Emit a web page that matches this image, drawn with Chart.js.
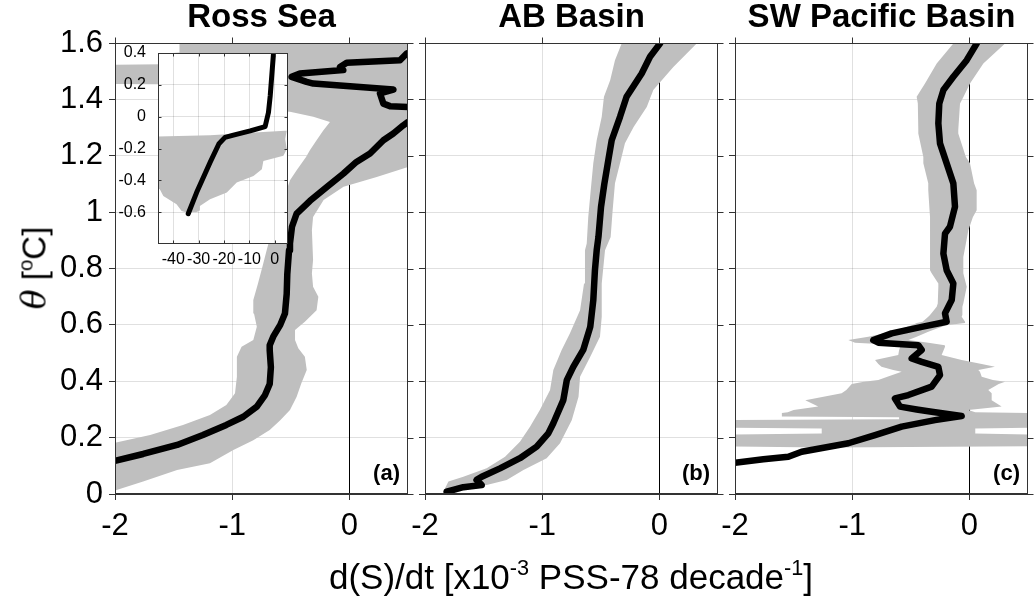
<!DOCTYPE html>
<html>
<head>
<meta charset="utf-8">
<script src="https://cdn.jsdelivr.net/npm/chart.js"></script>
<style>
  html, body { margin: 0; padding: 0; background: #fff; }
  #wrap { position: relative; width: 1036px; height: 600px; overflow: hidden;
          font-family: "Liberation Sans", Arial, Helvetica, sans-serif; color: #000; }
  #wrap canvas { position: absolute; left: 0; top: 0; }
  .ytitle { position: absolute; left: 34px; top: 268px; transform: translate(-50%, -50%) rotate(-90deg);
            font-size: 33px; white-space: nowrap; line-height: 1; }
  .xtitle { position: absolute; left: 571px; top: 576px; transform: translate(-50%, -50%);
            font-size: 35px; white-space: nowrap; line-height: 1; }
  .ytitle i { font-family: "DejaVu Serif", "Liberation Serif", serif; }
  sup { font-size: 0.62em; vertical-align: 0.62em; line-height: 0; }
</style>
</head>
<body>
<div id="wrap">
  <canvas id="panel0" width="1036" height="600"></canvas>
  <canvas id="panel1" width="1036" height="600"></canvas>
  <canvas id="panel2" width="1036" height="600"></canvas>
  <canvas id="inset" width="1036" height="600"></canvas>
  <div class="ytitle"><i>θ</i> [<sup>o</sup>C]</div>
  <div class="xtitle">d(S)/dt [x10<sup>-3</sup> PSS-78 decade<sup>-1</sup>]</div>
</div>
<script>
// ---------------- data ----------------
const panelTitles  = ['Ross Sea', 'AB Basin', 'SW Pacific Basin'];
const panelLetters = ['(a)', '(b)', '(c)'];

const thetaTicks      = [0, 0.2, 0.4, 0.6, 0.8, 1, 1.2, 1.4, 1.6];
const thetaTickLabels = ['0', '0.2', '0.4', '0.6', '0.8', '1', '1.2', '1.4', '1.6'];
const rateTicks       = [-2, -1, 0];
const rateTickLabels  = ['-2', '-1', '0'];

// Ross Sea: mean trend profile
const rossLineT = [0.09,0.118,0.142,0.174,0.209,0.245,0.274,0.31,0.351,0.39,0.45,0.51,0.528,0.558,0.60,0.64,0.71,0.78,0.865,0.889,0.948,0.995,1.04,1.09,1.137,1.178,1.208,1.255,1.279,1.308,1.32,1.345,1.373,1.376,1.385,1.421,1.435,1.456,1.462,1.48,1.492,1.504,1.515,1.53,1.539,1.563,1.58];
const rossLineX = [-2.3,-2.0,-1.76,-1.47,-1.25,-1.05,-0.905,-0.79,-0.72,-0.68,-0.67,-0.68,-0.68,-0.65,-0.59,-0.55,-0.535,-0.53,-0.515,-0.507,-0.49,-0.45,-0.336,-0.19,-0.05,0.06,0.176,0.29,0.375,0.46,0.5,0.65,0.5,0.346,0.29,0.261,0.375,-0.308,-0.365,-0.493,-0.422,-0.052,-0.08,-0.023,0.432,0.489,0.6];
// Ross Sea: uncertainty range
const rossLoT = [0.01,0.1,0.182,0.209,0.245,0.28,0.316,0.357,0.416,0.487,0.522,0.546,0.593,0.64,0.688,0.747,0.818,0.865,0.89,1.0,1.113,1.149,1.196,1.22,1.255,1.29,1.32,1.338,1.356,1.37,1.452,1.456,1.521,1.525,1.562,1.566,1.62];
const rossLoX = [-3.0,-2.9,-2.0,-1.70,-1.42,-1.19,-1.05,-0.976,-0.96,-0.96,-0.92,-0.82,-0.79,-0.814,-0.82,-0.78,-0.735,-0.706,-0.69,-0.6,-0.507,-0.45,-0.37,-0.336,-0.28,-0.223,-0.166,-0.308,-0.507,-1.0,-1.0,-2.5,-2.5,-1.6,-1.6,-1.45,-1.45];
const rossHiT = [0.01,0.044,0.085,0.109,0.156,0.191,0.227,0.262,0.298,0.345,0.393,0.44,0.487,0.517,0.546,0.582,0.611,0.652,0.70,0.735,0.783,0.83,0.936,0.983,1.043,1.09,1.125,1.16,1.17,1.62];
const rossHiX = [-2.02,-1.76,-1.47,-1.19,-0.99,-0.82,-0.68,-0.59,-0.507,-0.45,-0.41,-0.364,-0.38,-0.436,-0.464,-0.464,-0.38,-0.28,-0.265,-0.31,-0.32,-0.31,-0.32,-0.31,-0.22,-0.05,0.233,0.5,0.9,0.9];

// AB Basin
const abLineT = [0.008,0.024,0.032,0.05,0.061,0.091,0.127,0.168,0.215,0.251,0.333,0.404,0.451,0.511,0.593,0.688,0.794,0.865,0.912,1.019,1.10,1.184,1.255,1.338,1.409,1.492,1.551,1.598];
const abLineX = [-1.815,-1.673,-1.516,-1.56,-1.516,-1.36,-1.19,-1.047,-0.948,-0.905,-0.82,-0.79,-0.735,-0.65,-0.59,-0.564,-0.55,-0.535,-0.52,-0.498,-0.47,-0.436,-0.407,-0.336,-0.28,-0.151,-0.08,0.005];
const abLoT = [0.0,0.008,0.044,0.061,0.091,0.132,0.185,0.239,0.298,0.369,0.44,0.511,0.57,0.652,0.747,0.865,0.889,0.983,1.078,1.173,1.255,1.338,1.409,1.468,1.539,1.598,1.62];
const abLoX = [-1.85,-1.844,-1.8,-1.673,-1.474,-1.317,-1.19,-1.104,-1.02,-0.933,-0.905,-0.834,-0.763,-0.677,-0.643,-0.635,-0.62,-0.607,-0.586,-0.564,-0.535,-0.492,-0.473,-0.42,-0.379,-0.322,-0.3];
const abHiT = [0.0,0.002,0.02,0.032,0.05,0.085,0.127,0.18,0.262,0.345,0.416,0.487,0.558,0.629,0.747,0.865,0.912,1.007,1.102,1.173,1.244,1.302,1.373,1.433,1.515,1.598,1.62];
const abHiX = [-1.8,-1.787,-1.673,-1.474,-1.303,-1.16,-0.962,-0.848,-0.748,-0.69,-0.677,-0.59,-0.507,-0.492,-0.492,-0.464,-0.416,-0.399,-0.379,-0.336,-0.294,-0.22,-0.108,-0.052,0.119,0.318,0.36];

// SW Pacific Basin
const pacLineT = [0.1,0.111,0.123,0.132,0.15,0.18,0.209,0.239,0.262,0.277,0.292,0.30,0.31,0.339,0.351,0.381,0.422,0.451,0.469,0.481,0.511,0.528,0.537,0.546,0.57,0.593,0.611,0.641,0.688,0.747,0.794,0.853,0.924,0.948,1.019,1.102,1.173,1.244,1.315,1.385,1.433,1.48,1.539,1.598,1.62];
const pacLineX = [-2.25,-2.0,-1.758,-1.545,-1.431,-1.033,-0.805,-0.578,-0.294,-0.066,-0.322,-0.45,-0.592,-0.635,-0.521,-0.322,-0.251,-0.265,-0.407,-0.493,-0.407,-0.436,-0.777,-0.82,-0.663,-0.407,-0.194,-0.208,-0.151,-0.137,-0.194,-0.222,-0.208,-0.166,-0.123,-0.137,-0.194,-0.251,-0.265,-0.257,-0.222,-0.137,-0.023,0.062,0.09];
const pacBandT = [0.165,0.17,0.21,0.215,0.232,0.236,0.262,0.265,0.272,0.275,0.287,0.29,0.298,0.31,0.333,0.357,0.369,0.39,0.398,0.404,0.416,0.434,0.44,0.451,0.461,0.475,0.493,0.51,0.522,0.528,0.537,0.546,0.558,0.576,0.599,0.607,0.611,0.629,0.635,0.664,0.676,0.735,0.747,0.783,0.794,0.841,0.889,0.936,0.983,1.007,1.078,1.102,1.173,1.196,1.279,1.291,1.385,1.409,1.456,1.527,1.598,1.62];
const pacLoX = [-1.25,-2.3,-2.3,-1.26,-1.26,-2.3,-2.3,-0.6,-0.6,-1.6,-1.6,-1.55,-1.5,-1.29,-1.40,-1.09,-1.05,-1.004,-0.9,-0.777,-0.7,-0.578,-0.65,-0.75,-0.777,-0.805,-0.607,-0.6,-0.59,-0.578,-0.976,-1.033,-0.862,-0.663,-0.493,-0.45,-0.4,-0.351,-0.336,-0.279,-0.27,-0.265,-0.265,-0.322,-0.336,-0.336,-0.336,-0.336,-0.336,-0.34,-0.351,-0.351,-0.393,-0.393,-0.436,-0.436,-0.44,-0.45,-0.379,-0.279,-0.137,-0.1];
const pacHiX = [-1.2,0.6,0.6,0.05,0.05,0.6,0.6,0.6,0.6,0.6,0.6,0.05,-0.009,0.275,0.19,0.19,0.161,0.25,0.304,0.2,0.105,0.09,0.076,0.218,0.105,-0.066,-0.237,-0.22,-0.208,-0.21,-0.35,-0.521,-0.45,-0.351,-0.2,-0.037,-0.037,-0.066,-0.06,-0.06,-0.052,-0.023,-0.03,-0.052,-0.052,-0.052,-0.03,-0.009,0.03,0.062,0.062,0.04,0.005,-0.03,-0.095,-0.095,-0.08,-0.05,0.005,0.119,0.304,0.35];

// Inset (Ross Sea, wider range)
const insetXTicks      = [-40, -30, -20, -10, 0];
const insetXTickLabels = ['-40', '-30', '-20', '-10', '0'];
const insetYTicks      = [-0.6, -0.4, -0.2, 0, 0.2, 0.4];
const insetYTickLabels = ['-0.6', '-0.4', '-0.2', '0', '0.2', '0.4'];
const insetLineY = [-0.61,-0.477,-0.288,-0.17,-0.13,-0.116,-0.089,-0.062,0.026,0.131,0.4,0.45];
const insetLineX = [-34.1,-30.8,-25.5,-22,-19.6,-16.3,-9.7,-3.8,-2.5,-1.8,-0.5,-0.4];
const insetLoY = [-0.60,-0.593,-0.551,-0.498,-0.456,-0.435,-0.125,-0.116,-0.10,-0.089];
const insetLoX = [-35,-36.7,-38.7,-43.9,-45.3,-48,-48,-25.5,-8,4];
const insetHiY = [-0.60,-0.59,-0.561,-0.519,-0.477,-0.414,-0.372,-0.33,-0.278,-0.246,-0.204,-0.141,-0.089];
const insetHiX = [-31,-29.5,-29.5,-25.5,-18.9,-15,-8.4,-5.1,-4.5,3.4,4.7,4.1,4.7];

// ---------------- layout constants ----------------
const FONT = '"Liberation Sans", Arial, Helvetica, sans-serif';
const CANVAS_W = 1036, CANVAS_H = 600;
const PLOT_TOP = 43, PLOT_BOTTOM = 494;
const PANEL_LEFT = [115, 425, 735], PANEL_RIGHT = [408, 718, 1028];
const TICK = 6;
const TITLE_SIZE = 33, TICK_SIZE = 31;
const INSET = { left: 158, right: 288, top: 53, bottom: 244 };
const BAND_GRAY = '#bfbfbf';
const GRID = 'rgba(0,0,0,0.12)';
const AXIS = '#333';

Chart.defaults.font.family = FONT;
Chart.defaults.color = '#000';

const pts = (xs, ys) => xs.map((x, i) => ({ x: x, y: ys[i] }));
const bandShape = (loX, loY, hiX, hiY) => pts(loX, loY).concat(pts(hiX, hiY).reverse());

const framePlugin = {
  id: 'frame',
  beforeDraw(chart, args, opts) {
    if (!opts.bg) return;
    const a = chart.chartArea, ctx = chart.ctx;
    ctx.save(); ctx.fillStyle = opts.bg;
    ctx.fillRect(a.left, a.top, a.right - a.left, a.bottom - a.top);
    ctx.restore();
  },
  afterDraw(chart, args, opts) {
    const { ctx, chartArea: a, scales } = chart;
    const L = Math.round(a.left) + 0.5, R = Math.round(a.right) - 0.5;
    const T = Math.round(a.top) + 0.5, B = Math.round(a.bottom) - 0.5;
    ctx.save();
    ctx.strokeStyle = opts.color; ctx.lineWidth = 1;
    ctx.strokeRect(L, T, R - L, B - T);
    if (opts.outerTicks) {
      ctx.beginPath();
      scales.y.ticks.forEach(t => { const p = Math.round(scales.y.getPixelForValue(t.value)) + 0.5; ctx.moveTo(R, p); ctx.lineTo(R + opts.outerTicks, p); });
      scales.x.ticks.forEach(t => { const p = Math.round(scales.x.getPixelForValue(t.value)) + 0.5; ctx.moveTo(p, T); ctx.lineTo(p, T - opts.outerTicks); });
      ctx.stroke();
    }
    if (opts.innerTicks) {
      const k = opts.innerTicks;
      ctx.beginPath();
      scales.y.ticks.forEach(t => { const p = Math.round(scales.y.getPixelForValue(t.value)) + 0.5; ctx.moveTo(L, p); ctx.lineTo(L + k, p); ctx.moveTo(R, p); ctx.lineTo(R - k, p); });
      scales.x.ticks.forEach(t => { const p = Math.round(scales.x.getPixelForValue(t.value)) + 0.5; ctx.moveTo(p, B); ctx.lineTo(p, B - k); ctx.moveTo(p, T); ctx.lineTo(p, T + k); });
      ctx.stroke();
    }
    if (opts.letter) {
      ctx.font = 'bold 22px ' + FONT;
      ctx.fillStyle = '#000'; ctx.textAlign = 'right'; ctx.textBaseline = 'alphabetic';
      ctx.fillText(opts.letter, a.right - 8, a.bottom - 14);
    }
    ctx.restore();
  }
};

function makePanel(i, lineX, lineT, shape) {
  return new Chart(document.getElementById('panel' + i), {
    type: 'scatter',
    data: { datasets: [
      { label: 'trend', data: pts(lineX, lineT), showLine: true, borderColor: '#000', borderWidth: 6.5,
        pointRadius: 0, pointHoverRadius: 0, borderJoinStyle: 'round', borderCapStyle: 'round',
        tension: 0, order: 0, clip: 0 },
      { label: 'range', data: shape, showLine: true, fill: 'shape', backgroundColor: BAND_GRAY,
        borderColor: 'rgba(0,0,0,0)', borderWidth: 0, pointRadius: 0, pointHoverRadius: 0,
        tension: 0, order: 1, clip: 0 }
    ] },
    options: {
      responsive: false, animation: false, events: [],
      layout: { padding: { left: i === 0 ? 0 : PANEL_LEFT[i] - TICK, right: CANVAS_W - PANEL_RIGHT[i], top: 0, bottom: 0 } },
      plugins: {
        legend: { display: false }, tooltip: { enabled: false },
        title: { display: true, text: panelTitles[i], fullSize: false, color: '#000',
                 font: { size: TITLE_SIZE, weight: 'bold', lineHeight: 1 },
                 padding: { top: 1, bottom: PLOT_TOP - 1 - TITLE_SIZE } },
        frame: { color: AXIS, outerTicks: TICK, letter: panelLetters[i] }
      },
      scales: {
        x: { type: 'linear', min: -2, max: 0.5, z: 1,
             afterBuildTicks: s => { s.ticks = rateTicks.map(v => ({ value: v })); },
             afterFit: s => { s.height = CANVAS_H - PLOT_BOTTOM; },
             ticks: { autoSkip: false, maxRotation: 0, padding: 8, font: { size: TICK_SIZE }, color: '#000',
                      callback: v => rateTickLabels[rateTicks.indexOf(v)] },
             grid: { color: c => (c.tick && c.tick.value === 0) ? '#000' : GRID, tickColor: AXIS, tickLength: TICK, drawTicks: true },
             border: { display: true, color: AXIS } },
        y: { type: 'linear', min: 0, max: 1.6, z: 1,
             afterBuildTicks: s => { s.ticks = thetaTicks.map(v => ({ value: v })); },
             afterFit: s => { s.width = i === 0 ? PANEL_LEFT[0] : TICK; },
             ticks: { display: i === 0, padding: 6, font: { size: TICK_SIZE }, color: '#000',
                      callback: v => thetaTickLabels[thetaTicks.indexOf(v)] },
             grid: { color: GRID, tickColor: AXIS, tickLength: TICK, drawTicks: true },
             border: { display: true, color: AXIS } }
      }
    },
    plugins: [framePlugin]
  });
}

makePanel(0, rossLineX, rossLineT, bandShape(rossLoX, rossLoT, rossHiX, rossHiT));
makePanel(1, abLineX, abLineT, bandShape(abLoX, abLoT, abHiX, abHiT));
makePanel(2, pacLineX, pacLineT, bandShape(pacLoX, pacBandT, pacHiX, pacBandT));

// inset
new Chart(document.getElementById('inset'), {
  type: 'scatter',
  data: { datasets: [
    { label: 'trend', data: pts(insetLineX, insetLineY), showLine: true, borderColor: '#000', borderWidth: 5,
      pointRadius: 0, pointHoverRadius: 0, borderJoinStyle: 'round', borderCapStyle: 'round', order: 0, clip: 0 },
    { label: 'range', data: bandShape(insetLoX, insetLoY, insetHiX, insetHiY), showLine: true, fill: 'shape',
      backgroundColor: BAND_GRAY, borderColor: 'rgba(0,0,0,0)', borderWidth: 0, pointRadius: 0, order: 1, clip: 0 }
  ] },
  options: {
    responsive: false, animation: false, events: [],
    layout: { padding: { left: 100, right: CANVAS_W - INSET.right, top: INSET.top, bottom: CANVAS_H - INSET.bottom - 30 } },
    plugins: { legend: { display: false }, tooltip: { enabled: false },
               frame: { color: AXIS, bg: '#fff', innerTicks: 3 } },
    scales: {
      x: { type: 'linear', min: -46, max: 5.2, z: 1,
           afterBuildTicks: s => { s.ticks = insetXTicks.map(v => ({ value: v })); },
           afterFit: s => { s.height = 30; },
           ticks: { autoSkip: false, maxRotation: 0, padding: 6, font: { size: 16 }, color: '#000',
                    callback: v => insetXTickLabels[insetXTicks.indexOf(v)] },
           grid: { color: GRID, drawTicks: false }, border: { display: false } },
      y: { type: 'linear', min: -0.8, max: 0.4, z: 1,
           afterBuildTicks: s => { s.ticks = insetYTicks.map(v => ({ value: v })); },
           afterFit: s => { s.width = INSET.left - 100; },
           ticks: { padding: 12, font: { size: 16 }, color: '#000',
                    callback: v => insetYTickLabels[insetYTicks.indexOf(v)] },
           grid: { color: GRID, drawTicks: false }, border: { display: false } }
    }
  },
  plugins: [framePlugin]
});
</script>
</body>
</html>
